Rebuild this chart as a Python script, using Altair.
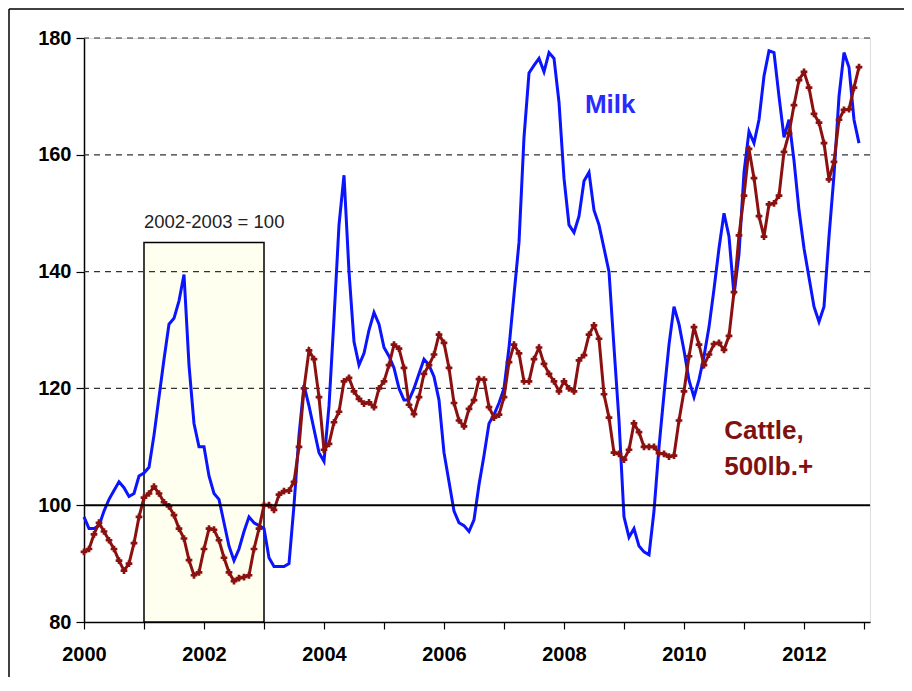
import altair as alt
import pandas as pd

# Monthly index values (2002-2003 = 100), Jan 2000 .. Dec 2012
milk = [
    98, 96, 96, 96.5, 99, 101, 102.5, 104, 103, 101.5, 102, 105,          # 2000
    105.5, 106.5, 112, 118.5, 125, 131, 132, 135, 139.5, 124, 114, 110,    # 2001
    110, 105, 102, 101, 97, 93, 90.5, 92.5, 95.5, 98, 97, 96.5,            # 2002
    96, 91, 89.5, 89.5, 89.5, 90, 100, 112, 120.5, 117, 113, 109,          # 2003
    107.5, 117, 132, 148, 156.5, 140, 128, 124, 126, 130, 133, 131,        # 2004
    127, 125.5, 123.5, 120, 118, 118, 120, 122.5, 125, 124, 122, 118,      # 2005
    109, 104, 99, 97, 96.5, 95.5, 97.5, 103.5, 108.5, 114, 115.5, 117.5,   # 2006
    120, 127, 136, 145, 163, 174, 175.3, 176.5, 174.2, 177.5, 176.5, 169,  # 2007
    156, 148, 146.7, 149.5, 155.5, 157, 150.5, 148, 144, 140, 127, 114.5,  # 2008
    98, 94.5, 96, 93, 92, 91.5, 99, 110, 119, 127.5, 134, 131,             # 2009
    126.5, 121.4, 118.5, 121.5, 125.5, 130.5, 137, 144, 150, 146, 136, 143,  # 2010
    157, 164, 162, 166, 173.5, 177.8, 177.5, 170, 163, 166, 159, 150.5,    # 2011
    144, 139, 134, 131.4, 134, 146, 156.5, 170, 177.5, 175, 166, 162,      # 2012
]
cattle = [
    92, 92.5, 95, 97, 95.5, 94, 92.5, 90.5, 88.8, 90, 93.5, 98,            # 2000
    101.3, 102, 103.2, 102, 100.5, 99.8, 98.3, 96, 94.3, 90.6, 88, 88.5,   # 2001
    92.5, 96, 95.8, 94, 91, 88.5, 87, 87.5, 87.7, 88, 92.5, 96,            # 2002
    100, 100, 99.2, 101.8, 102.4, 102.5, 104, 110, 120, 126.5, 125, 118.5,  # 2003
    109.5, 110.5, 114.2, 116, 121.2, 121.8, 119.5, 118.2, 117.4, 117.6, 116.8, 120,  # 2004
    121.2, 124, 127.5, 126.8, 123.5, 117.2, 115.6, 118.5, 122.5, 124, 125.8, 129.2,  # 2005
    127.8, 123.5, 117.5, 114.5, 113.5, 116.5, 118, 121.6, 121.5, 116.8, 115, 115.5,  # 2006
    118.5, 124.5, 127.5, 126, 121.2, 121.2, 125, 127, 124.2, 122.5, 121.2, 119.5,    # 2007
    121.2, 120, 119.5, 124.8, 125.7, 129.2, 130.8, 128.5, 119, 115, 109, 108.8,      # 2008
    107.8, 109.5, 114, 112.5, 110, 110, 110, 108.9, 108.8, 108.3, 108.5, 114.5,      # 2009
    119.5, 125.5, 130.5, 127.5, 124, 125.8, 127.6, 127.8, 126.6, 129, 136.5, 146.2,  # 2010
    153, 161, 156, 149.5, 146, 151.5, 151.7, 153, 160.5, 163.7, 168.5, 172.8,        # 2011
    174.2, 171.5, 167, 165.5, 162, 155.8, 158.8, 166, 167.7, 167.8, 171.5, 175,      # 2012
]
year_ticks = list(range(2000, 2014))
y_ticks = [80, 100, 120, 140, 160, 180]
grid_vals = [120, 140, 160, 180]

n = len(milk)
t = [2000 + i / 12 for i in range(n)]
df = pd.DataFrame({"t": t, "milk": milk, "cattle": cattle})

W, H = 786, 584
FONT = "Liberation Sans"
xs = alt.Scale(domain=[2000, 2013.1], nice=False, zero=False)
ys = alt.Scale(domain=[80, 180], nice=False, zero=False)

x_axis = alt.Axis(values=year_ticks, labelExpr="datum.value % 2 == 0 ? datum.value : ''",
                  format="d", grid=False, domainColor="black", domainWidth=1.5,
                  tickColor="black", tickWidth=1.2, tickSize=7, labelPadding=15,
                  labelFont=FONT, labelFontSize=20, labelFontWeight="bold",
                  labelColor="black", title=None, labelFlush=False)
y_axis = alt.Axis(values=y_ticks, format="d", grid=False, domainColor="black",
                  domainWidth=1.5, tickColor="black", tickWidth=1.2, tickSize=8,
                  labelPadding=5, labelFont=FONT, labelFontSize=20,
                  labelFontWeight="bold", labelColor="black", title=None)


def X(field):
    return alt.X(field, scale=xs, axis=x_axis)


def Y(field):
    return alt.Y(field, scale=ys, axis=y_axis)


box_df = pd.DataFrame({"x": [2001], "x2": [2003], "y": [80], "y2": [145]})
box = alt.Chart(box_df).mark_rect(fill="#FFFFF0", stroke="black", strokeWidth=1.5).encode(
    x=X("x:Q"), x2="x2:Q", y=Y("y:Q"), y2="y2:Q",
)

grid = alt.Chart(pd.DataFrame({"g": grid_vals})).mark_rule(
    color="#333333", strokeWidth=1.2, strokeDash=[6, 5]
).encode(y=Y("g:Q"))

base100 = alt.Chart(pd.DataFrame({"v": [100]})).mark_rule(color="black", strokeWidth=2).encode(
    y=Y("v:Q")
)

milk_line = alt.Chart(df).mark_line(color="#0a14ff", strokeWidth=3).encode(
    x=X("t:Q"), y=Y("milk:Q"),
)

cattle_line = alt.Chart(df).mark_line(
    color="#8b1111", strokeWidth=3,
    point=alt.OverlayMarkDef(shape="cross", size=45, filled=True, color="#8b1111"),
).encode(x=X("t:Q"), y=Y("cattle:Q"))

milk_lbl = alt.Chart(pd.DataFrame({"x": [2008.77], "y": [168.5], "txt": ["Milk"]})).mark_text(
    font=FONT, fontSize=26, fontWeight="bold", color="#2a2aff", align="center", baseline="middle"
).encode(x=X("x:Q"), y=Y("y:Q"), text="txt:N")
cattle_lbl = alt.Chart(pd.DataFrame({"x": [2010.67, 2010.67], "y": [112.7, 106.6],
                                     "txt": ["Cattle,", "500lb.+"]})).mark_text(
    font=FONT, fontSize=26, fontWeight="bold", color="#7f1111", align="left", baseline="middle"
).encode(x=X("x:Q"), y=Y("y:Q"), text="txt:N")

box_lbl = alt.Chart(pd.DataFrame({"x": [2001], "y": [148.5], "txt": ["2002-2003 = 100"]})).mark_text(
    font=FONT, fontSize=18.5, color="#222222", align="left", baseline="middle"
).encode(x=X("x:Q"), y=Y("y:Q"), text="txt:N")

frame_df = pd.DataFrame({"a": [0]})
frame_left = alt.Chart(frame_df).mark_rule(color="black", strokeWidth=1.5).encode(
    x=alt.value(-75), y=alt.value(-29), y2=alt.value(H + 60)
)
frame_top = alt.Chart(frame_df).mark_rule(color="black", strokeWidth=1.5).encode(
    x=alt.value(-75), x2=alt.value(W + 34), y=alt.value(-29)
)

chart = alt.layer(
    box, grid, milk_line, cattle_line, base100, milk_lbl, cattle_lbl, box_lbl, frame_left, frame_top
).properties(
    width=W, height=H,
    autosize=alt.AutoSizeParams(type="none"),
    padding={"left": 76, "top": 30, "right": 34, "bottom": 55},
).configure_view(strokeWidth=0).configure(background="white")

chart.save("out.html", embed_options={"renderer": "svg", "actions": False})
